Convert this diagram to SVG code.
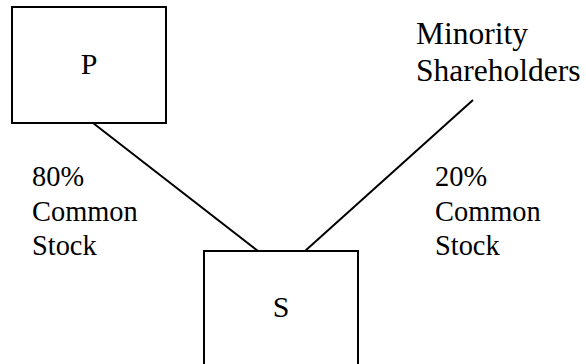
<svg xmlns="http://www.w3.org/2000/svg" width="586" height="364" viewBox="0 0 586 364">
  <style>
    .box { fill: #ffffff; stroke: #000000; stroke-width: 2; }
    .link { stroke: #000000; stroke-width: 2; fill: none; }
    text { font-family: "Liberation Serif", "Times New Roman", serif; fill: #000000; }
    .name { font-size: 30px; text-anchor: middle; }
    .big { font-size: 31.5px; }
    .lbl { font-size: 28.4px; }
  </style>
  <rect width="586" height="364" fill="#ffffff"/>

  <g id="connectors">
    <line class="link" x1="93" y1="123" x2="258" y2="251"/>
    <line class="link" x1="473" y1="100" x2="305" y2="251"/>
  </g>

  <g id="node-p">
    <rect class="box" x="12" y="7" width="154" height="116"/>
    <text class="name" x="89" y="74">P</text>
  </g>

  <g id="node-minority">
    <text class="big" x="416" y="44">Minority</text>
    <text class="big" x="416" y="81">Shareholders</text>
  </g>

  <g id="node-s">
    <rect class="box" x="204" y="251" width="154" height="120"/>
    <text class="name" x="281" y="317">S</text>
  </g>

  <g id="label-left">
    <text class="lbl" x="32" y="186">80%</text>
    <text class="lbl" x="32" y="221">Common</text>
    <text class="lbl" x="32" y="255">Stock</text>
  </g>

  <g id="label-right">
    <text class="lbl" x="435" y="186">20%</text>
    <text class="lbl" x="435" y="221">Common</text>
    <text class="lbl" x="435" y="255">Stock</text>
  </g>
</svg>
